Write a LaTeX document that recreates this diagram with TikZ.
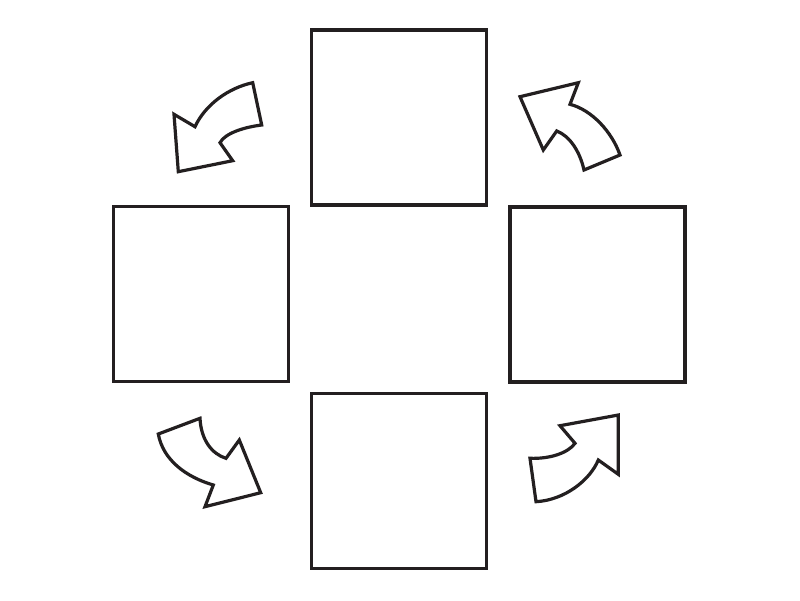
\documentclass[tikz,border=0pt]{standalone}
\usepackage{tikz}
\definecolor{inkblack}{HTML}{231F20}

\begin{document}
\begin{tikzpicture}[x=0.025cm, y=-0.025cm,
    sq/.style={draw=inkblack, line width=0.08cm, minimum size=4.375cm, inner sep=0pt},
    blockarrow/.style={draw=inkblack, line width=0.08cm, fill=white}]
    \useasboundingbox (0,0) rectangle (800,600);
    \node[sq] (sqTop) at (399,117.5) {};
    \node[sq] (sqLeft) at (201,294) {};
    \node[sq] (sqRight) at (597.5,294.5) {};
    \node[sq] (sqBottom) at (399,481) {};
    \draw[blockarrow] (252.7,82.7) -- (261.7,125) .. controls (245,127) and (225,133) .. (220,142.7)
        -- (232.7,160.7) -- (178.3,171.7) -- (174,114.3) -- (195,126.7)
        .. controls (205,105) and (228,88) .. cycle;
    \draw[blockarrow] (520,96.7) -- (578.3,82.7) -- (570,104.3) .. controls (592,110) and (612,132) .. (620,155)
        -- (584,170) .. controls (580,152) and (570,136) .. (556.7,131) -- (543.3,150) -- cycle;
    \draw[blockarrow] (158.3,434) -- (200,418.3) .. controls (201,440) and (212,454) .. (226,458.3)
        -- (239.3,440) -- (260.7,492.7) -- (205,506.7) -- (213.3,485)
        .. controls (186,477) and (163,460) .. cycle;
    \draw[blockarrow] (618.3,415) -- (560,425.7) -- (575,443.3) .. controls (568,453) and (550,459) .. (530,458.3)
        -- (536,501.7) .. controls (565,500) and (590,480) .. (598.3,460) -- (618.3,474.3) -- cycle;
\end{tikzpicture}
\end{document}
